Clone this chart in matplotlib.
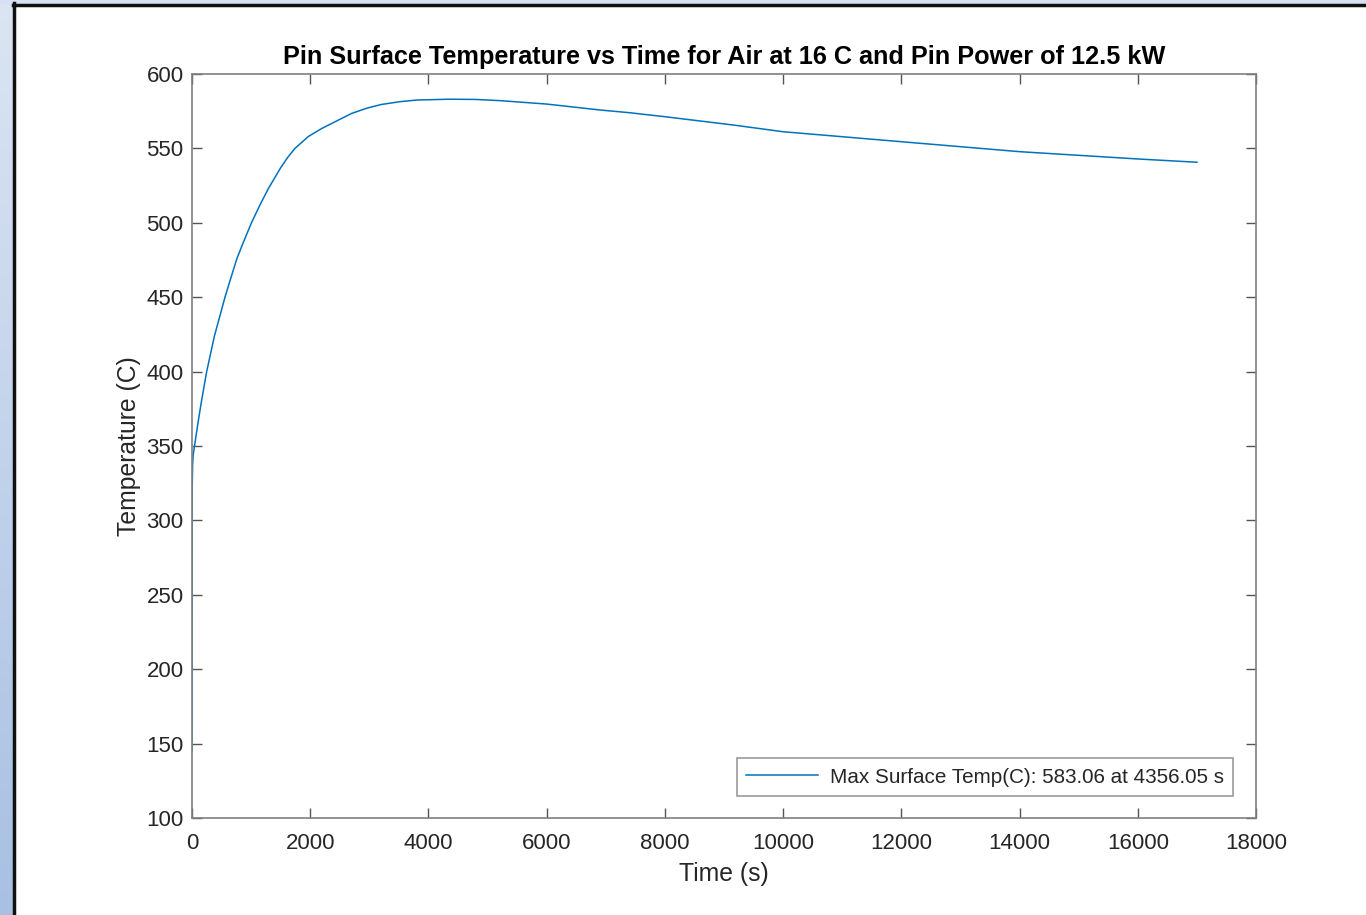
import numpy as np
import matplotlib
matplotlib.use('Agg')
import matplotlib.pyplot as plt
from matplotlib.patches import Rectangle

plt.rcParams['font.family'] = ['Liberation Sans', 'DejaVu Sans']

# values
time_s = [0, 3, 10, 20, 50, 107, 160, 248, 380, 558, 650, 760, 880, 1006, 1150,
          1292, 1500, 1620, 1742, 1968, 2200, 2450, 2700, 2956, 3200, 3519, 3800,
          4356.05, 4800, 5211, 6000, 6904, 7400, 8000, 9160, 10000, 12000, 14000,
          16000, 17000]
temp_c = [145, 320, 337, 344, 352, 367, 380, 400, 424, 450, 462, 476, 488, 500, 512,
          523, 537, 544, 550, 558, 563.5, 568.5, 573.5, 577, 579.5, 581.4, 582.5,
          583.06, 582.9, 582.1, 579.8, 575.8, 574, 571.3, 565.7, 561.2, 554.5, 547.8,
          542.9, 540.7]

x_ticks = list(range(0, 18001, 2000))
y_ticks = list(range(100, 601, 50))

title = 'Pin Surface Temperature vs Time for Air at 16 C and Pin Power of 12.5 kW'
legend_label = 'Max Surface Temp(C): 583.06 at 4356.05 s'

W, H = 1366, 915
fig = plt.figure(figsize=(W / 100, H / 100), dpi=100)

# window frame: light blue band on the left/top, dark border line
band = fig.add_axes([0, 0, 13 / W, 1])
grad = np.linspace(0, 1, 256).reshape(-1, 1)
band.imshow(grad, aspect='auto', cmap=matplotlib.colors.LinearSegmentedColormap.from_list(
    'b', ['#dbe5f3', '#a9c0e3']), extent=[0, 1, 0, 1])
band.axis('off')
fig.patches.append(Rectangle((0, 1 - 3 / H), 1, 3 / H, transform=fig.transFigure,
                             color='#d6e1f1', zorder=0))
fig.lines.append(plt.Line2D([13.5 / W, 13.5 / W], [0, 1 - 3 / H], transform=fig.transFigure,
                            color='#111111', lw=2.5))
fig.lines.append(plt.Line2D([13 / W, 1], [1 - 4.5 / H, 1 - 4.5 / H], transform=fig.transFigure,
                            color='#111111', lw=2.5))

ax = fig.add_axes([192 / W, 1 - 818 / H, (1256 - 192) / W, (818 - 74) / H])
ax.plot(time_s, temp_c, color='#0072BD', lw=1.1, label=legend_label)

ax.set_xlim(0, 18000)
ax.set_ylim(100, 600)
ax.set_xticks(x_ticks)
ax.set_yticks(y_ticks)

for s in ax.spines.values():
    s.set_color('#808080')
    s.set_linewidth(1.2)
ax.tick_params(direction='in', length=7, width=1, color='#555555',
               labelsize=16, labelcolor='#262626', top=True, right=True)
ax.tick_params(axis='y', pad=6)
ax.tick_params(axis='x', pad=10.5)

ax.set_title(title, fontsize=18.2, fontweight='bold', pad=7, color='#000000')
ax.set_xlabel('Time (s)', fontsize=17.8, color='#262626', labelpad=6)
ax.set_ylabel('Temperature (C)', fontsize=17.8, color='#262626', labelpad=4)

leg = ax.legend(loc='lower right', fontsize=14.85, frameon=True, fancybox=False,
                handlelength=3.5, handletextpad=0.55, borderpad=0.45, borderaxespad=0,
                bbox_to_anchor=(0.9784, 0.0296))
leg.get_frame().set_edgecolor('#808080')
leg.get_frame().set_linewidth(1.2)
for t in leg.get_texts():
    t.set_color('#262626')

fig.savefig('out.png', dpi=100)
